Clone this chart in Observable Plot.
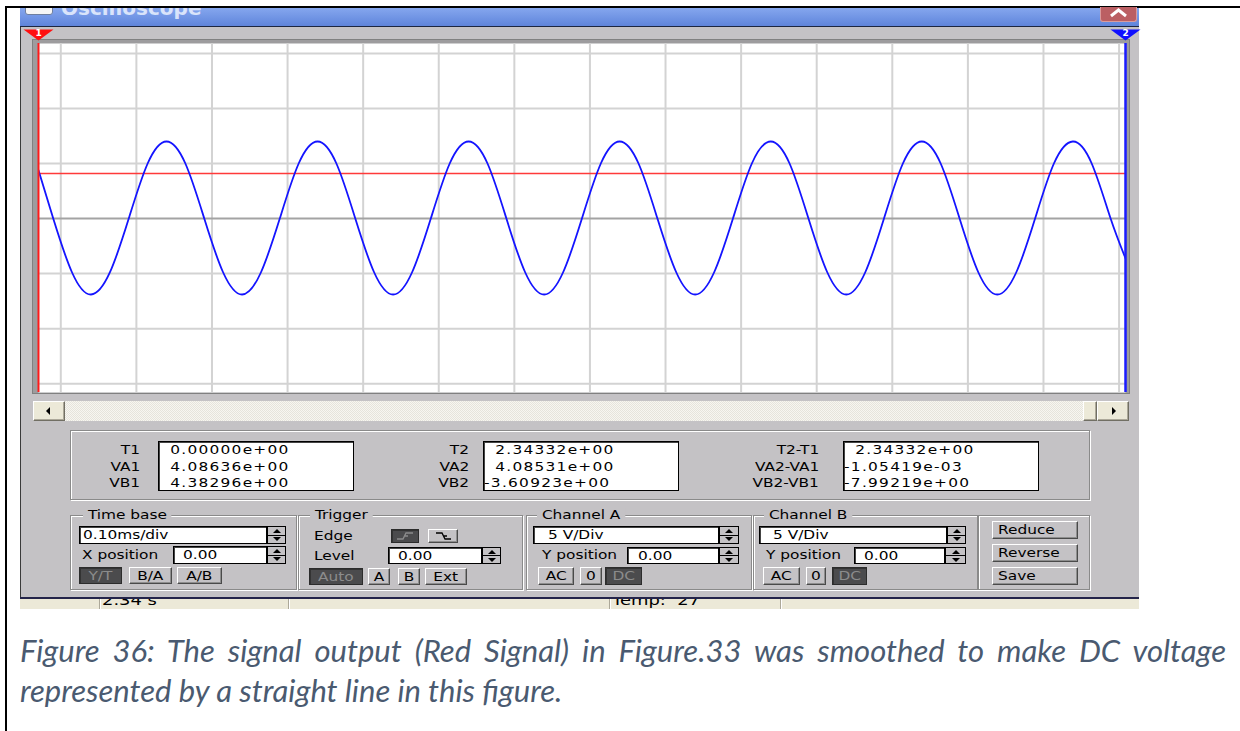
<!DOCTYPE html>
<html>
<head>
<meta charset="utf-8">
<script src="https://cdn.jsdelivr.net/npm/d3@7"></script>
<script src="https://cdn.jsdelivr.net/npm/@observablehq/plot@0.6"></script>
<style>
  html, body { margin: 0; padding: 0; background: #fff; }
  #page { position: relative; width: 1240px; height: 731px; overflow: hidden; background: #fff; }
  #caption { position: absolute; left: 20px; top: 630px; width: 1206px; color: #4a5a70;
             font: italic 400 31px "Lato", "Open Sans", sans-serif; line-height: 40px; }
  #caption .l1 { text-align: justify; text-align-last: justify; }
</style>
</head>
<body>
<div id="page"></div>
<script>
// ---------- oscilloscope data ----------
// Screen grid: 0.10 ms/div horizontally, 5 V/div vertically
const timeGridMs = [0.0295, 0.1295, 0.2295, 0.3295, 0.4295, 0.5295, 0.6295, 0.7295,
                    0.8295, 0.9295, 1.0295, 1.1295, 1.2295, 1.3295, 1.4295];
const voltGrid = [-15, -10, -5, 0, 5, 10, 15];
const voltRange = [-15.8, 15.9];

// Cursor positions on the screen (ms): cursor 1 at the left edge, cursor 2 at the right edge
const cursorMs = [0, 1.438];

// Cursor readouts
const readLabels1 = ["T1", "VA1", "VB1"];
const readValues1 = [0.0, 4.08636, 4.38296];
const readLabels2 = ["T2", "VA2", "VB2"];
const readValues2 = [2.34332, 4.08531, -3.60923];
const readLabels3 = ["T2-T1", "VA2-VA1", "VB2-VB1"];
const readValues3 = [2.34332, -1.05419e-3, -7.99219];

// Channel B (blue): sampled points between the two cursors
const channelBTimes = [
  0.0195, 0.0444,
  0.0694, 0.0944, 0.1194, 0.1444, 0.1693, 0.1943, 0.2193, 0.2443,
  0.2693, 0.2942, 0.3192, 0.3442, 0.3692, 0.3941, 0.4191, 0.4441,
  0.4691, 0.4941, 0.5190, 0.5440, 0.5690, 0.5940, 0.6190, 0.6439,
  0.6689, 0.6939, 0.7189, 0.7439, 0.7688, 0.7938, 0.8188, 0.8438,
  0.8687, 0.8937, 0.9187, 0.9437, 0.9687, 0.9936, 1.0186, 1.0436,
  1.0686, 1.0936, 1.1185, 1.1435, 1.1685, 1.1935, 1.2185, 1.2434,
  1.2684, 1.2934, 1.3184, 1.3433, 1.3683, 1.3933, 1.4183
];
const channelBVolts = [
  0.0, -4.9,
  -6.9, -4.9, 0.0, 5.0, 7.0, 5.0, 0.0, -4.9,
  -6.9, -4.9, 0.0, 5.0, 7.0, 5.0, 0.0, -4.9,
  -6.9, -4.9, 0.0, 5.0, 7.0, 5.0, 0.0, -4.9,
  -6.9, -4.9, 0.0, 5.0, 7.0, 5.0, 0.0, -4.9,
  -6.9, -4.9, 0.0, 5.0, 7.0, 5.0, 0.0, -4.9,
  -6.9, -4.9, 0.0, 5.0, 7.0, 5.0, 0.0, -4.9,
  -6.9, -4.9, 0.0, 5.0, 7.0, 5.0, 0.0
];

// Control panel settings
const timeBase = "0.10ms/div";
const channelScale = ["5 V/Div", "5 V/Div"];
const positions = ["0.00", "0.00", "0.00", "0.00"];
const statusTexts = ["2.34 s", "Temp:  27"];

// ---------- traces ----------
const traceA = cursorMs.map((t, i) => ({t, v: [readValues1[1], readValues2[1]][i]}));
const traceB = [
  {t: cursorMs[0], v: readValues1[2]},
  ...channelBTimes.map((t, i) => ({t, v: channelBVolts[i]})),
  {t: cursorMs[1], v: readValues2[2]}
];

// ---------- helpers for the instrument window ----------
const page = document.getElementById("page");
const GRAY = "#c4c2c5";
const UIFONT = "'DejaVu Sans', sans-serif";

function box(x, y, w, h, css = "", parent = page) {
  const d = document.createElement("div");
  d.style.cssText = `position:absolute;box-sizing:border-box;left:${x}px;top:${y}px;width:${w}px;height:${h}px;` + css;
  parent.appendChild(d);
  return d;
}
function txt(x, yc, s, opt = {}) {
  const size = opt.size || 12, lh = Math.round(size * 1.17);
  const d = document.createElement("div");
  d.textContent = s;
  d.style.cssText = `position:absolute;top:${yc - lh / 2}px;font:${opt.weight || 400} ${size}px ${UIFONT};` +
    `line-height:${lh}px;white-space:pre;color:${opt.color || "#000"};letter-spacing:${opt.ls || 0}px;` +
    `transform:scaleX(${opt.sx || 1.28});` + (opt.css || "");
  if (opt.align === "right") { d.style.right = (1240 - x) + "px"; d.style.transformOrigin = "100% 50%"; }
  else { d.style.left = x + "px"; d.style.transformOrigin = "0 50%"; }
  (opt.parent || page).appendChild(d);
  return d;
}
const RAISED = `background:${GRAY};border-top:1px solid #fff;border-left:1px solid #fff;border-right:1px solid #4a4a4a;border-bottom:1px solid #4a4a4a;box-shadow:inset -1px -1px #8e8e8e;`;
const PRESSED = "background:#4b4b4d;border:1px solid #2c2c2c;box-shadow:inset 1px 1px #333;";
const XPFACE = "background:#ece9d8;border-top:1px solid #fff;border-left:1px solid #fff;border-right:1px solid #716f64;border-bottom:1px solid #716f64;box-shadow:inset -1px -1px #aca899;";

function button(x, y, w, h, s, pressed = false, left = false) {
  const b = box(x, y, w, h, (pressed ? PRESSED : RAISED) +
    `display:flex;align-items:center;justify-content:${left ? "flex-start" : "center"};` + (left ? "padding-left:5px;" : ""));
  const sp = document.createElement("span");
  sp.textContent = s;
  sp.style.cssText = `display:inline-block;font:12px ${UIFONT};line-height:14px;white-space:pre;` +
    `transform:scaleX(1.28);transform-origin:${left ? "0 50%" : "50% 50%"};color:${pressed ? "#8c8c8c" : "#000"};`;
  b.appendChild(sp);
  return b;
}
function field(x, y, w, h, s, tx) {
  box(x, y, w, h, "background:#fff;border:1px solid #000;box-shadow:inset 1px 1px #444;");
  if (s != null) txt(tx, y + h / 2, s);
}
function arrow(cx, cy, dir, size = 4, color = "#000") {
  const t = "transparent";
  let css;
  if (dir === "up") css = `border-left:${size}px solid ${t};border-right:${size}px solid ${t};border-bottom:${size}px solid ${color};`;
  if (dir === "down") css = `border-left:${size}px solid ${t};border-right:${size}px solid ${t};border-top:${size}px solid ${color};`;
  if (dir === "left") css = `border-top:${size}px solid ${t};border-bottom:${size}px solid ${t};border-right:${size}px solid ${color};`;
  if (dir === "right") css = `border-top:${size}px solid ${t};border-bottom:${size}px solid ${t};border-left:${size}px solid ${color};`;
  const vertical = dir === "up" || dir === "down";
  box(cx - (vertical ? size : size / 2), cy - (vertical ? size / 2 : size), 0, 0, css);
}
function spinner(x, y, w, h) {
  box(x, y, w, h, `background:${GRAY};border:1px solid #000;`);
  box(x + 1, y + Math.floor(h / 2), w - 2, 1, "background:#000;");
  arrow(x + w / 2, y + h * 0.28, "up", 4);
  arrow(x + w / 2, y + h * 0.74, "down", 4);
}
function group(x, y, w, h, title, tx) {
  box(x, y, w, h, "border:1px solid #8a8a8a;box-shadow:inset 1px 1px #fff, 1px 1px #fff;");
  if (title) txt(tx - 4, y, " " + title + " ", {css: `background:${GRAY};`});
}
function sci(v) {
  const [m, e] = v.toExponential(5).split("e");
  const n = +e;
  return (v < 0 ? "" : " ") + m + "e" + (n < 0 ? "-" : "+") + String(Math.abs(n)).padStart(2, "0");
}

// ---------- page frame ----------
box(5, 6, 1235, 2, "background:#000;");
box(5, 6, 2, 725, "background:#000;");

// status bar behind the window
box(20, 590, 1119, 19, "background:#ece9d8;");
[99, 288, 609, 780].forEach(x => box(x, 590, 2, 19, "border-left:1px solid #aca899;border-right:1px solid #fff;"));
txt(102, 600, statusTexts[0], {size: 14});
txt(612, 600, statusTexts[1], {size: 14});

// window body
box(20, 8, 1119, 591, `background:${GRAY};border-left:1px solid #3a3a3a;`);
box(20, 597, 1119, 2, "background:#24244a;");

// title bar
const titleBar = box(20, 8, 1119, 18, "background:linear-gradient(#85a6ee,#7094e4 55%,#5f84da);overflow:hidden;");
box(5, -6, 28, 13, "background:#f6f6f6;border:1px solid #6f7f9f;border-radius:3px;", titleBar);
const ttl = document.createElement("div");
ttl.textContent = "Oscilloscope";
ttl.style.cssText = `position:absolute;left:41px;top:-12px;font:bold 20px ${UIFONT};line-height:24px;color:rgba(240,245,255,0.82);white-space:pre;`;
titleBar.appendChild(ttl);
box(20, 26, 1119, 1, "background:#1c2640;");
const closeBtn = box(1100, 7, 37, 15, "background:#bb5f63;border:1px solid #d99a9c;border-top:none;border-radius:0 0 3px 3px;");
closeBtn.innerHTML = '<svg width="35" height="14" style="position:absolute;left:0;top:0"><polyline points="10,9 17.5,3 25,9" fill="none" stroke="#fff" stroke-width="3"/></svg>';

// screen bevel
box(32, 39, 1098, 355, "background:#9d9c9e;border:1px solid #808080;");

// ---------- the scope screen, drawn with Plot ----------
const downTriangle = {
  draw(ctx, size) {
    const r = Math.sqrt(size / Math.PI);
    ctx.moveTo(-1.5 * r, -0.55 * r);
    ctx.lineTo(1.5 * r, -0.55 * r);
    ctx.lineTo(0, 0.55 * r);
    ctx.closePath();
  }
};
const yTop = voltRange[1];
const screen = Plot.plot({
  width: 1119,
  height: 365,
  marginLeft: 18,
  marginRight: 14,
  marginTop: 16,
  marginBottom: 0,
  style: {background: "transparent", overflow: "visible"},
  x: {domain: cursorMs, axis: null},
  y: {domain: voltRange, axis: null},
  marks: [
    Plot.frame({fill: "#ffffff"}),
    Plot.ruleX(timeGridMs, {stroke: "#d3d3d3", strokeWidth: 2}),
    Plot.ruleY(voltGrid.filter(v => v !== 0), {stroke: "#d3d3d3", strokeWidth: 2}),
    Plot.ruleY([0], {stroke: "#a3a3a3", strokeWidth: 2}),
    Plot.line(traceA, {x: "t", y: "v", stroke: "#ff3a3a", strokeWidth: 1.6}),
    Plot.line(traceB, {x: "t", y: "v", stroke: "#1414ff", strokeWidth: 1.8, curve: "natural", clip: true}),
    Plot.ruleX([cursorMs[0]], {stroke: "#ff1a1a", strokeWidth: 2}),
    Plot.ruleX([cursorMs[1]], {stroke: "#1a1aff", strokeWidth: 2.5}),
    Plot.dot([cursorMs[0]], {x: d => d, y: () => yTop, dy: -8.5, r: 10, symbol: downTriangle, fill: "#ff1010", stroke: "none"}),
    Plot.dot([cursorMs[1]], {x: d => d, y: () => yTop, dy: -8.5, r: 10, symbol: downTriangle, fill: "#1010ff", stroke: "none"}),
    Plot.text([["1", cursorMs[0]], ["2", cursorMs[1]]], {
      x: d => d[1], y: () => yTop, text: d => d[0], dy: -10.5,
      fill: "#fff", fontSize: 9, fontWeight: "bold", fontFamily: "DejaVu Sans"
    })
  ]
});
const holder = box(20, 27, 1119, 365, "");
holder.appendChild(screen);

// ---------- scrollbar ----------
box(65, 401, 1018, 20, "background:repeating-conic-gradient(#f7f6f1 0 25%, #e6e4dc 0 50%) 0 0/2px 2px;");
box(33, 401, 32, 20, XPFACE); arrow(48, 411, "left", 4);
box(1083, 401, 14, 20, XPFACE);
box(1097, 401, 32, 20, XPFACE); arrow(1114, 411, "right", 4);

// ---------- cursor readouts ----------
group(70, 430, 1020, 70, null);
const rowY = [450, 467, 483];
[[readLabels1, readValues1, 140, 158], [readLabels2, readValues2, 469, 483], [readLabels3, readValues3, 819, 843]]
  .forEach(([labels, values, labelRight, boxLeft]) => {
    field(boxLeft, 441, 196, 50, null);
    labels.forEach((l, i) => txt(labelRight, rowY[i], l, {align: "right"}));
    values.forEach((v, i) => {
      const s = sci(v);
      txt(boxLeft + (v < 0 ? 1 : 6), rowY[i], s, {ls: 1});
    });
  });

// ---------- Time base ----------
group(70, 515, 227, 75, "Time base", 87);
field(79, 526, 188, 18, timeBase, 83);
spinner(267, 526, 19, 18);
txt(82, 555, "X position");
field(173, 546, 94, 18, positions[0], 183);
spinner(267, 546, 19, 18);
button(79, 567, 43, 17, "Y/T", true);
button(129, 567, 43, 17, "B/A");
button(177, 567, 45, 17, "A/B");

// ---------- Trigger ----------
group(298, 515, 225, 75, "Trigger", 314);
txt(314, 536, "Edge");
const e1 = box(391, 529, 28, 14, PRESSED);
e1.innerHTML = '<svg width="26" height="12" style="position:absolute;left:0;top:0"><path d="M5,9 H11 L14,3 H21 M12.5,6 H16" fill="none" stroke="#8c8c8c" stroke-width="1.3"/></svg>';
const e2 = box(428, 529, 30, 14, RAISED);
e2.innerHTML = '<svg width="28" height="12" style="position:absolute;left:0;top:0"><path d="M7,3 H13 L16,9 H22 M14,6 H18" fill="none" stroke="#000" stroke-width="1.3"/></svg>';
txt(314, 556, "Level");
field(388, 547, 94, 17, positions[1], 398);
spinner(482, 547, 19, 17);
button(309, 568, 54, 17, "Auto", true);
button(368, 568, 22, 17, "A");
button(398, 568, 22, 17, "B");
button(425, 568, 42, 17, "Ext");

// ---------- Channel A ----------
group(526, 515, 226, 75, "Channel A", 541);
field(533, 526, 186, 18, channelScale[0], 548);
spinner(719, 526, 20, 18);
txt(542, 555, "Y position");
field(627, 547, 92, 17, positions[2], 638);
spinner(719, 547, 20, 17);
button(538, 567, 36, 18, "AC");
button(580, 567, 22, 18, "0");
button(605, 567, 37, 18, "DC", true);

// ---------- Channel B ----------
group(753, 515, 225, 75, "Channel B", 768);
field(759, 526, 188, 18, channelScale[1], 773);
spinner(947, 526, 19, 18);
txt(766, 555, "Y position");
field(854, 547, 91, 17, positions[3], 864);
spinner(945, 547, 21, 17);
button(763, 567, 37, 18, "AC");
button(806, 567, 20, 18, "0");
button(832, 567, 35, 18, "DC", true);

// ---------- Reduce / Reverse / Save ----------
group(978, 515, 112, 75, null);
button(992, 521, 86, 18, "Reduce", false, true);
button(992, 544, 86, 18, "Reverse", false, true);
button(992, 567, 86, 18, "Save", false, true);

// ---------- caption ----------
const cap = document.createElement("div");
cap.id = "caption";
cap.innerHTML = '<div class="l1">Figure 36: The signal output (Red Signal) in Figure.33 was smoothed to make DC voltage</div>' +
                '<div>represented by a straight line in this figure.</div>';
page.appendChild(cap);
</script>
</body>
</html>
